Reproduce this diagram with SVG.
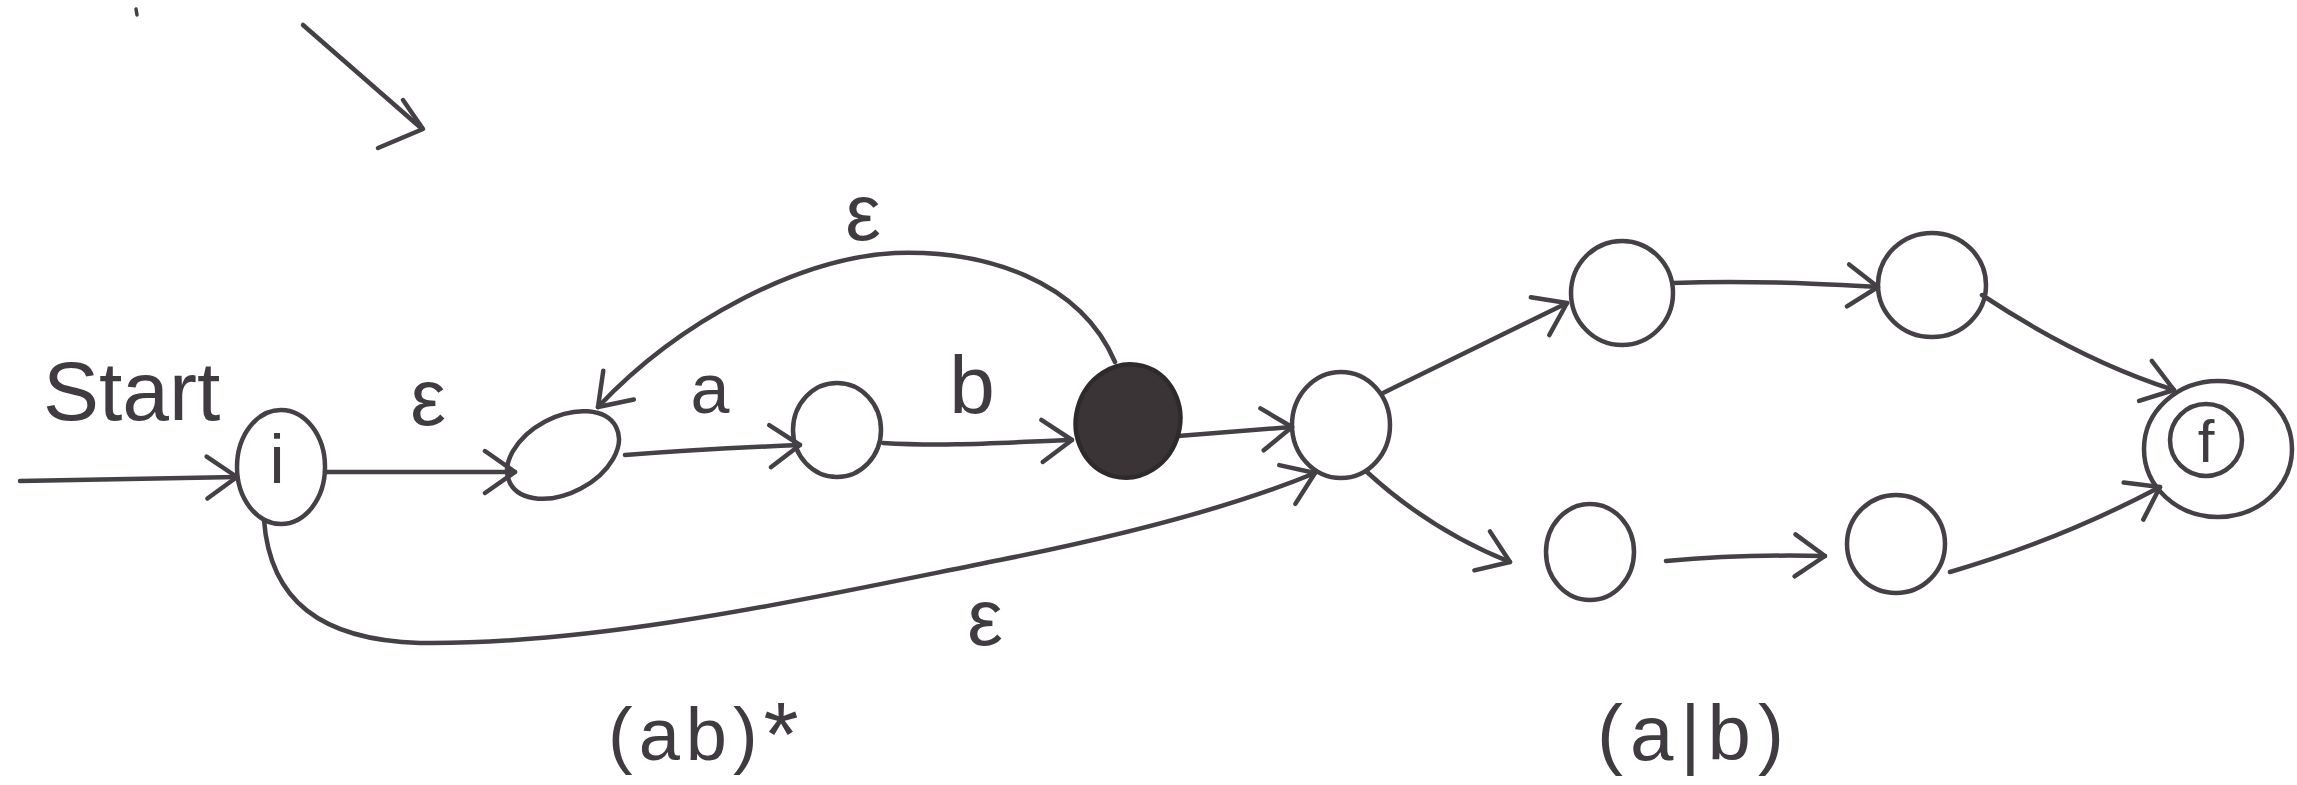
<svg xmlns="http://www.w3.org/2000/svg" width="2297" height="785" viewBox="0 0 2297 785">
<style>
.n{fill:none;stroke:#444046;stroke-width:4.5}
.e{fill:none;stroke:#444046;stroke-width:4.5;stroke-linecap:round;marker-end:url(#ah)}
.p{fill:none;stroke:#444046;stroke-width:4.5;stroke-linecap:round;stroke-linejoin:round}
.t{font-family:"Liberation Sans",Arial,sans-serif;fill:#3f3b40}
</style>
<defs>
<marker id="ah" markerUnits="userSpaceOnUse" viewBox="-40 -30 44 60" refX="0" refY="0" markerWidth="44" markerHeight="60" orient="auto" overflow="visible">
<path d="M-30,-21 L0,0 L-30,21" fill="none" stroke="#444046" stroke-width="4.5" stroke-linecap="round" stroke-linejoin="round"/>
</marker>
</defs>
<rect width="2297" height="785" fill="#ffffff"/>
<g id="marks">
<line x1="136" y1="9" x2="137" y2="15" stroke="#444046" stroke-width="3.5" stroke-linecap="round"/>
<path class="p" d="M303,25 L421,128"/>
<path class="p" d="M403,100 L423,129 L378,148"/>
</g>
<g id="connectors">
<path class="e" d="M20,481 L237,477"/>
<path class="e" d="M325,472 L515,472"/>
<path class="e" d="M625,455 C690,450 750,447 800,445"/>
<path class="e" d="M883,443 C950,447 1010,442 1072,440"/>
<path class="e" d="M1115,362 C1080,280 985,250 895,253 C800,258 680,320 598,407"/>
<path class="e" d="M1178,436 L1292,427"/>
<path class="e" d="M264,520 C270,600 320,640 420,643 C600,645 800,600 1000,560 C1150,530 1250,500 1315,473"/>
<path class="e" d="M1383,393 L1567,303"/>
<path class="e" d="M1367,472 Q1430,530 1510,562"/>
<path class="e" d="M1673,283 C1750,280 1820,284 1878,287"/>
<path class="e" d="M1666,561 C1720,556 1780,555 1825,556"/>
<path class="e" d="M1982,295 Q2080,360 2174,390"/>
<path class="e" d="M1950,572 Q2060,540 2160,487"/>
</g>
<g id="labels">
<text class="t" x="43" y="420" font-size="84">Start</text>
<text class="t" x="428" y="425" font-size="80" text-anchor="middle">ε</text>
<text class="t" x="710" y="413" font-size="70" text-anchor="middle">a</text>
<text class="t" x="972" y="413" font-size="82" text-anchor="middle">b</text>
<text class="t" x="863" y="240" font-size="80" text-anchor="middle">ε</text>
<text class="t" x="985" y="645" font-size="80" text-anchor="middle">ε</text>
<text class="t" x="608" y="760" font-size="74" letter-spacing="6">(ab)<tspan font-size="90" dy="6">*</tspan></text>
<text class="t" x="1597" y="760" font-size="78" letter-spacing="7">(a|b)</text>
</g>
<g id="node-i">
<ellipse class="n" cx="281" cy="467" rx="44" ry="57"/>
<text class="t" x="277" y="483" font-size="68" text-anchor="middle">i</text>
</g>
<g id="node-1"><ellipse class="n" cx="563" cy="455" rx="60" ry="38" transform="rotate(-28 563 455)"/></g>
<g id="node-2"><ellipse class="n" cx="837" cy="430" rx="44" ry="47"/></g>
<g id="node-3"><ellipse cx="1128" cy="421" rx="52" ry="57" transform="rotate(15 1128 421)" fill="#3a3437" stroke="#2e2a2c" stroke-width="4.5"/></g>
<g id="node-4"><ellipse class="n" cx="1341" cy="425" rx="49" ry="53"/></g>
<g id="node-top1"><ellipse class="n" cx="1622" cy="293" rx="51" ry="52"/></g>
<g id="node-top2"><ellipse class="n" cx="1932" cy="285" rx="54" ry="52"/></g>
<g id="node-bot1"><ellipse class="n" cx="1590" cy="552" rx="44" ry="48"/></g>
<g id="node-bot2"><ellipse class="n" cx="1896" cy="544" rx="49" ry="49"/></g>
<g id="node-f">
<ellipse class="n" cx="2218" cy="449" rx="74" ry="68"/>
<circle class="n" cx="2206" cy="440" r="36"/>
<text class="t" x="2206" y="462" font-size="60" text-anchor="middle">f</text>
</g>
</svg>
